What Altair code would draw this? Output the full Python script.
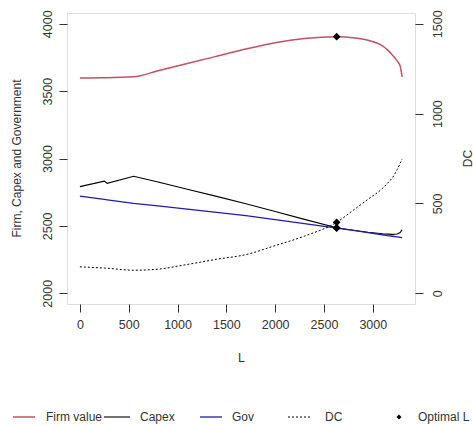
import altair as alt
import pandas as pd

# ---- data ----
L_vals = [0, 250, 280, 550, 800, 1100, 1400, 1700, 2000, 2300, 2630, 2800, 2950, 3100, 3150, 3200, 3250, 3280, 3300]
firm_value = [3598, 3600, 3600, 3606, 3651, 3705, 3759, 3813, 3860, 3891, 3904, 3897, 3878, 3836, 3806, 3768, 3724, 3686, 3605]
capex = [2791, 2832, 2816, 2868, 2825, 2772, 2719, 2664, 2607, 2548, 2486, 2468, 2452, 2441, 2439, 2437, 2439, 2450, 2472]
gov = [2721, 2696, 2693, 2667, 2648, 2624, 2600, 2576, 2546, 2516, 2483, 2466, 2450, 2434, 2428, 2423, 2418, 2415, 2412]
dc = [147, 140, 139, 128, 134, 160, 189, 215, 265, 318, 395, 462, 523, 584, 612, 643, 689, 722, 748]

opt_L = [2630, 2630, 2630]
opt_left = [3904, 2486, 2483]
opt_dc = [395]

x_ticks = [0, 500, 1000, 1500, 2000, 2500, 3000]
left_ticks = [2000, 2500, 3000, 3500, 4000]
right_ticks = [0, 500, 1000, 1500]
legend_labels = ["Firm value", "Capex", "Gov", "DC", "Optimal L"]

df = pd.DataFrame({"L": L_vals, "firm": firm_value, "capex": capex, "gov": gov, "dc": dc})
df_opt = pd.DataFrame({"L": opt_L, "v": opt_left})
df_opt_dc = pd.DataFrame({"L": opt_L[:1], "v": opt_dc})
one = pd.DataFrame({"k": [0]})

FONT = "Liberation Sans"
TXT = "#333333"
RED = "#C2535E"
BLUE = "#1C1CB4"

xscale = alt.Scale(domain=[-132, 3432], nice=False, zero=False)
lscale = alt.Scale(domain=[1920, 4080], nice=False, zero=False)
rscale = alt.Scale(domain=[-60, 1560], nice=False, zero=False)

xaxis = alt.Axis(values=x_ticks, format="d", title="L", grid=False, domain=False, tickSize=8,
                 tickColor=TXT, labelColor=TXT, labelFont=FONT, labelFontSize=12.5,
                 labelPadding=6, titleFont=FONT, titleFontSize=12.5, titleFontWeight="normal",
                 titleColor=TXT, titleY=53, titleBaseline="middle", labelFlush=False)
laxis = alt.Axis(values=left_ticks, format="d", title="Firm, Capex and Government", grid=False, domain=False,
                 tickSize=8, tickColor=TXT, labelColor=TXT, labelFont=FONT, labelFontSize=12.5,
                 labelAngle=270, labelAlign="center", labelBaseline="alphabetic", labelPadding=8,
                 titleFont=FONT, titleFontSize=12, titleFontWeight="normal", titleColor=TXT,
                 titleX=-51, titleY=145, titleBaseline="middle", titleAngle=270)
raxis = alt.Axis(values=right_ticks, format="d", title="DC", orient="right", grid=False, domain=False,
                 tickSize=8, tickColor=TXT, labelColor=TXT, labelFont=FONT, labelFontSize=12.5,
                 labelAngle=270, labelAlign="center", labelBaseline="top", labelPadding=8,
                 titleFont=FONT, titleFontSize=12, titleFontWeight="normal", titleColor=TXT,
                 titleX=52, titleY=145, titleBaseline="middle", titleAngle=270)

base = alt.Chart(df)
x_enc = alt.X("L:Q", scale=xscale, axis=xaxis)

red = base.mark_line(color=RED, strokeWidth=1.5, interpolate="monotone").encode(
    x=x_enc, y=alt.Y("firm:Q", scale=lscale, axis=laxis))
blk = base.mark_line(color="black", strokeWidth=1.1).encode(x="L:Q", y="capex:Q")
blu = base.mark_line(color=BLUE, strokeWidth=1.3).encode(x="L:Q", y="gov:Q")
pts = alt.Chart(df_opt).mark_point(shape="diamond", filled=True, color="black", size=60, opacity=1).encode(x="L:Q", y="v:Q")

left = alt.layer(red, blk, blu, pts)

dcl = base.mark_line(color="black", strokeWidth=1, strokeDash=[2, 2], interpolate="monotone").encode(
    x="L:Q", y=alt.Y("dc:Q", scale=rscale, axis=raxis))
dcp = alt.Chart(df_opt_dc).mark_point(shape="diamond", filled=True, color="black", size=60, opacity=1).encode(
    x="L:Q", y=alt.Y("v:Q", scale=rscale))
right = alt.layer(dcl, dcp)

# ---- manual legend below the plot (pixel positions relative to plot origin) ----
LY = 404
leg = []
line_specs = [(-54, -32, RED, None, 1.5), (37, 63, "black", None, 1.1), (133, 155, BLUE, None, 1.3), (221, 245, "black", [2, 2], 1)]
for (x1, x2, c, dash, w) in line_specs:
    kw = dict(color=c, strokeWidth=w)
    if dash:
        kw["strokeDash"] = dash
    leg.append(alt.Chart(one).mark_rule(**kw).encode(x=alt.value(x1), x2=alt.value(x2), y=alt.value(LY)))
leg.append(alt.Chart(one).mark_point(shape="diamond", filled=True, color="black", size=25, opacity=1).encode(
    x=alt.value(332), y=alt.value(LY)))
text_x = [-21, 73, 165, 258, 351]
for lab, tx in zip(legend_labels, text_x):
    leg.append(alt.Chart(one).mark_text(text=lab, align="left", baseline="middle", font=FONT,
                                        fontSize=12, color=TXT).encode(x=alt.value(tx), y=alt.value(LY)))

chart = alt.layer(left, right, *leg).resolve_scale(y="independent").properties(
    width=348, height=291,
    padding={"left": 67, "top": 13, "right": 58, "bottom": 122},
    autosize=alt.AutoSizeParams(type="none"),
).configure_view(stroke="#333333", strokeWidth=1).configure(background="white")

chart.save("out.html", embed_options={"renderer": "svg", "actions": False})
